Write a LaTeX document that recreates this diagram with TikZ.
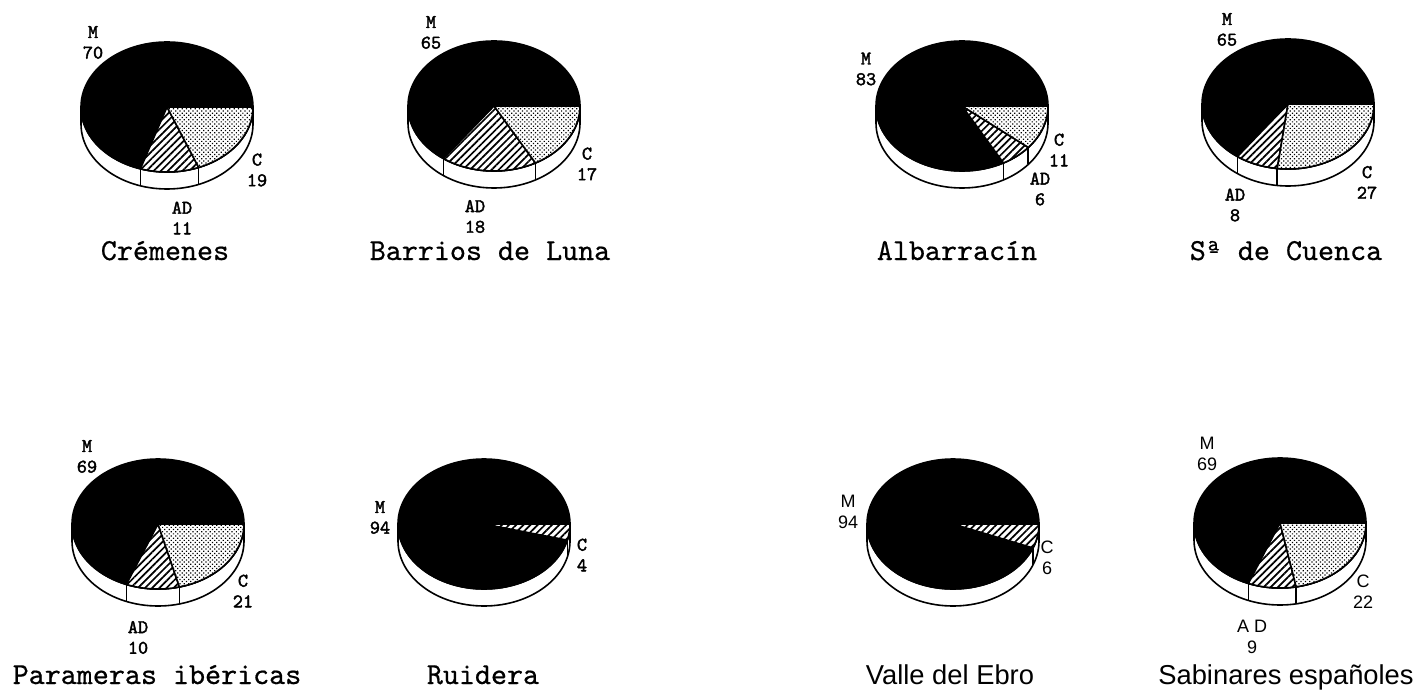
\documentclass[tikz,border=0pt]{standalone}
\usepackage{fontspec}
\newfontfamily\helv{Liberation Sans}
\newfontfamily\typewr{lmmono10-regular.otf}[FakeBold = 0.6]
\newfontfamily\typewrbold{lmmono10-regular.otf}[FakeBold = 2]
\usetikzlibrary{patterns.meta}

\tikzset{
	pieline/.style = {line width = 1.2pt, line join = round},
	dotted share/.style = {pieline, preaction = {fill = white},
		pattern = {Dots[distance = 2.3pt, radius = 0.65pt, angle = 45]}},
	hatched share/.style = {pieline, preaction = {fill = white},
		pattern = {Lines[angle = 45, distance = 3.8pt, line width = 1.3pt]}},
	lab/.style = {font = \typewrbold\fontsize{14.5}{15.5}\selectfont, align = center, inner sep = 0pt},
	sanslab/.style = {font = \helv\fontsize{13.5}{15.5}\selectfont, align = center, inner sep = 0pt},
	pietitle/.style = {font = \typewr\fontsize{22.9}{24}\selectfont, anchor = base, inner sep = 0pt},
	sanstitle/.style = {font = \helv\fontsize{20.5}{24}\selectfont, anchor = base, inner sep = 0pt}
}

% #1 centre, #2 first share (%), #3 its style, #4 second share (%)
\newcommand{\slicedpie}[4]{%
	\pgfmathsetmacro\angA{-3.6*#2}%
	\pgfmathsetmacro\angB{-3.6*(#2+#4)}%
	\draw[pieline, fill = white] (#1) ++(-86, 0) -- ++(0, -17)
		arc[start angle = 180, end angle = 360, x radius = 86, y radius = 65] -- ++(0, 17)
		arc[start angle = 0, end angle = -180, x radius = 86, y radius = 65] -- cycle;
	\draw[pieline, fill = black] (#1) ellipse[x radius = 86, y radius = 65];
	\ifnum#4>0
		\draw[hatched share] (#1) -- ++(\angA:86 and 65)
			arc[start angle = \angA, end angle = \angB, x radius = 86, y radius = 65] -- cycle;
		\draw[pieline] (#1) ++(\angB:86 and 65) -- ++(0, -17);
	\fi
	\draw[#3] (#1) -- ++(0:86 and 65)
		arc[start angle = 0, end angle = \angA, x radius = 86, y radius = 65] -- cycle;
	\draw[pieline] (#1) ++(\angA:86 and 65) -- ++(0, -17);
}

\begin{document}
\begin{tikzpicture}[x = 0.75pt, y = 0.75pt]
	\useasboundingbox (0, 0) rectangle (1423, 690);

	\coordinate (crem) at (167, 583);
	\coordinate (barr) at (494, 584);
	\coordinate (albar) at (962, 584);
	\coordinate (cuen) at (1288, 586);
	\coordinate (param) at (158, 166);
	\coordinate (ruid) at (484, 166);
	\coordinate (valle) at (953, 166);
	\coordinate (sabin) at (1280, 167);

	\slicedpie{crem}{19}{dotted share}{11}
	\slicedpie{barr}{17}{dotted share}{18}
	\slicedpie{albar}{11}{dotted share}{6}
	\slicedpie{cuen}{27}{dotted share}{8}
	\slicedpie{param}{21}{dotted share}{10}
	\slicedpie{ruid}{4}{hatched share}{0}
	\slicedpie{valle}{6}{hatched share}{0}
	\slicedpie{sabin}{22}{dotted share}{9}

	% top row
	\node[lab] (cremM) at (93, 647.5) {M\\70};
	\node[lab] (cremC) at (257, 520) {C\\19};
	\node[lab] (cremAD) at (182, 472) {AD\\11};
	\node[pietitle] (cremT) at (165, 430) {Crémenes};

	\node[lab] (barrM) at (431, 657.5) {M\\65};
	\node[lab] (barrC) at (587, 526) {C\\17};
	\node[lab] (barrAD) at (475, 473.5) {AD\\18};
	\node[pietitle] (barrT) at (490, 430) {Barrios de Luna};

	\node[lab] (albarM) at (866, 621) {M\\83};
	\node[lab] (albarC) at (1059, 540) {C\\11};
	\node[lab] (albarAD) at (1040, 501) {AD\\6};
	\node[pietitle] (albarT) at (957, 430) {Albarracín};

	\node[lab] (cuenM) at (1227, 660.5) {M\\65};
	\node[lab] (cuenC) at (1367, 507.5) {C\\27};
	\node[lab] (cuenAD) at (1235, 485) {AD\\8};
	\node[pietitle] (cuenT) at (1286, 430) {Sª de Cuenca};

	% bottom row
	\node[lab] (paramM) at (87, 233.5) {M\\69};
	\node[lab] (paramC) at (243, 99) {C\\21};
	\node[lab] (paramAD) at (138, 52.5) {AD\\10};
	\node[pietitle] (paramT) at (157, 6) {Parameras ibéricas};

	\node[lab] (ruidM) at (380, 172.5) {M\\94};
	\node[lab] (ruidC) at (582, 135) {C\\4};
	\node[pietitle] (ruidT) at (483, 6) {Ruidera};

	\node[sanslab] (valleM) at (848, 178) {M\\94};
	\node[sanslab] (valleC) at (1047, 132.5) {C\\6};
	\node[sanstitle] (valleT) at (950, 6) {Valle del Ebro};

	\node[sanslab] (sabinM) at (1207, 236) {M\\69};
	\node[sanslab] (sabinC) at (1363, 98) {C\\22};
	\node[sanslab] (sabinAD) at (1252, 53) {A D\\9};
	\node[sanstitle] (sabinT) at (1286, 6) {Sabinares españoles};
\end{tikzpicture}
\end{document}
